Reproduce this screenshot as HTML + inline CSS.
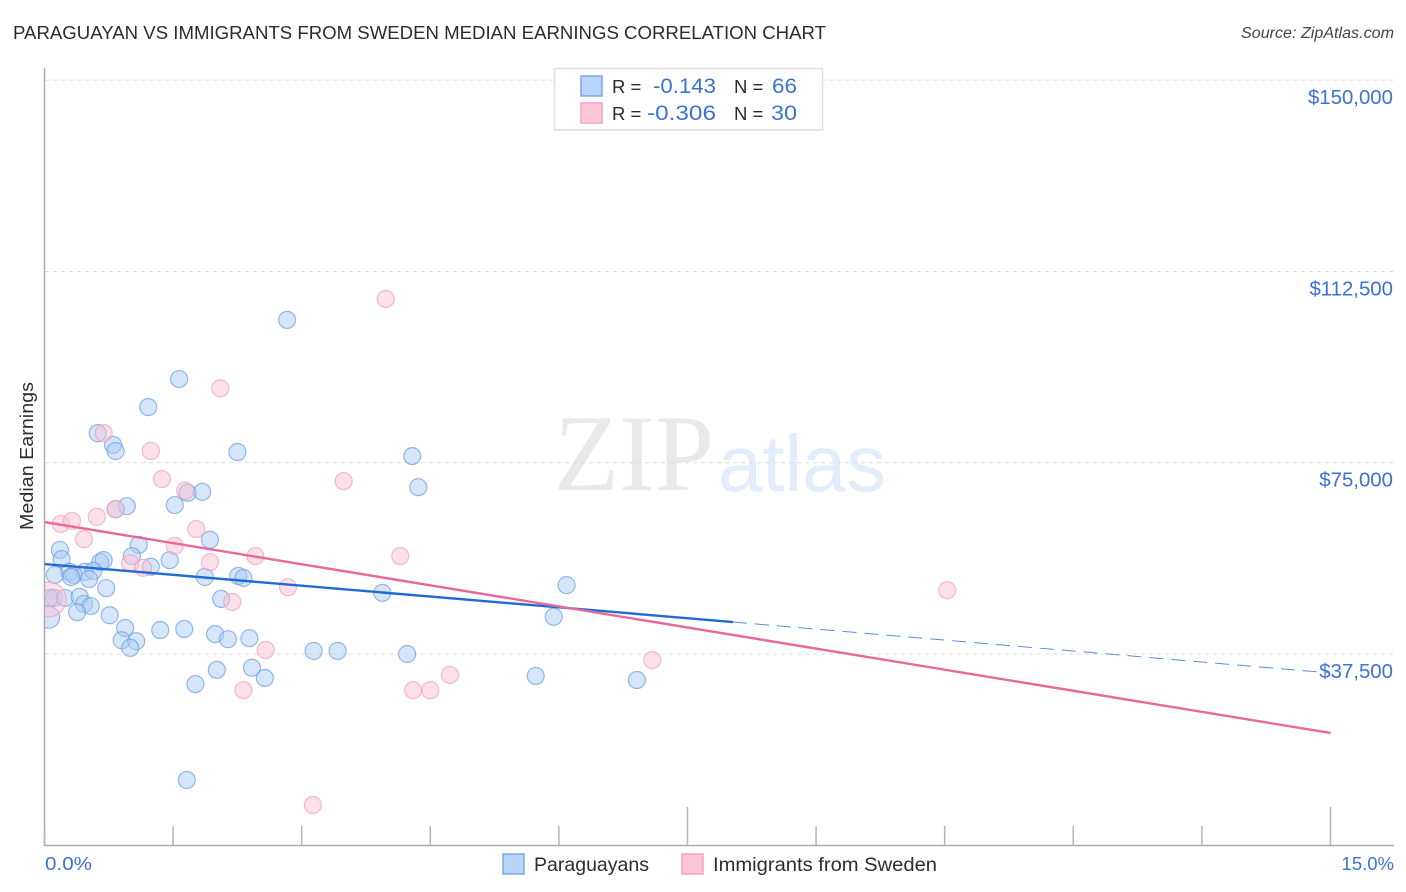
<!DOCTYPE html>
<html lang="en">
<head>
<meta charset="utf-8">
<title>Paraguayan vs Immigrants from Sweden Median Earnings Correlation Chart</title>
<style>
html,body{margin:0;padding:0;background:#fff;width:1406px;height:892px;overflow:hidden}
svg{display:block;font-family:"Liberation Sans",sans-serif}
</style>
</head>
<body>
<svg id="chart" xmlns="http://www.w3.org/2000/svg" width="1406" height="892" viewBox="0 0 1406 892">
  <defs><clipPath id="plot-clip"><rect x="45" y="60" width="1360" height="785"/></clipPath></defs>
  <text x="13" y="39" font-size="18.5" fill="#2c2c2c" textLength="813" lengthAdjust="spacingAndGlyphs">PARAGUAYAN VS IMMIGRANTS FROM SWEDEN MEDIAN EARNINGS CORRELATION CHART</text>
  <text x="1241" y="38" font-size="15.5" font-style="italic" fill="#444" textLength="153" lengthAdjust="spacingAndGlyphs">Source: ZipAtlas.com</text>

  <g>
    <text x="554" y="490" font-family="'Liberation Serif',serif" font-size="109" fill="#e9e9e9" textLength="160" lengthAdjust="spacingAndGlyphs">ZIP</text>
    <text x="718" y="491" font-size="80" fill="#e2ecfa" textLength="168" lengthAdjust="spacingAndGlyphs">atlas</text>
  </g>

  <g id="grid"></g>
  <g id="axes"></g>
  <g id="y-labels"></g>
  <g id="points" clip-path="url(#plot-clip)"></g>
  <g id="trends"></g>

  <text transform="translate(33,456) rotate(-90)" text-anchor="middle" font-size="18.5" fill="#2c2c2c" textLength="148" lengthAdjust="spacingAndGlyphs">Median Earnings</text>
  <text x="45" y="870" font-size="18.5" fill="#3b72d3" textLength="47" lengthAdjust="spacingAndGlyphs">0.0%</text>
  <text x="1394" y="870" font-size="18.5" fill="#3b72d3" text-anchor="end">15.0%</text>

  <g>
    <rect x="554.5" y="68.5" width="268" height="61.5" fill="#fff" stroke="#dfdfdf" stroke-width="1.5"/>
    <rect x="581" y="76" width="21" height="20" fill="#b9d4f8" stroke="#7aa8e6" stroke-width="1.5"/>
    <rect x="581" y="103" width="21" height="20" fill="#fcc6d8" stroke="#f3a3bd" stroke-width="1.5"/>
    <text x="612" y="93" font-size="18.5" fill="#2c2c2c">R =</text>
    <text x="653" y="93" font-size="21" fill="#3b72d3" textLength="63" lengthAdjust="spacingAndGlyphs">-0.143</text>
    <text x="734" y="93" font-size="18.5" fill="#2c2c2c">N =</text>
    <text x="772" y="93" font-size="21" fill="#3b72d3" textLength="25" lengthAdjust="spacingAndGlyphs">66</text>
    <text x="612" y="120" font-size="18.5" fill="#2c2c2c">R =</text>
    <text x="647" y="120" font-size="21" fill="#3b72d3" textLength="69" lengthAdjust="spacingAndGlyphs">-0.306</text>
    <text x="734" y="120" font-size="18.5" fill="#2c2c2c">N =</text>
    <text x="771" y="120" font-size="21" fill="#3b72d3" textLength="26" lengthAdjust="spacingAndGlyphs">30</text>
  </g>

  <g>
    <rect x="503" y="854" width="21" height="20" fill="#b9d4f8" stroke="#7aa8e6" stroke-width="1.5"/>
    <text x="534" y="871" font-size="19.5" fill="#2c2c2c" textLength="115" lengthAdjust="spacingAndGlyphs">Paraguayans</text>
    <rect x="682" y="854" width="21" height="20" fill="#fcc6d8" stroke="#f3a3bd" stroke-width="1.5"/>
    <text x="713" y="871" font-size="19.5" fill="#2c2c2c" textLength="224" lengthAdjust="spacingAndGlyphs">Immigrants from Sweden</text>
  </g>
</svg>
<script>
// Chart data: x = share of population (%), y = median earnings ($)
const yTickValues = [37500, 75000, 112500, 150000];
const yTickLabels = ['$37,500', '$75,000', '$112,500', '$150,000'];
const xTickValues = [0, 1.5, 3, 4.5, 6, 7.5, 9, 10.5, 12, 13.5, 15];
const paraguayansX = [2.83,1.57,1.21,0.62,0.80,0.83,2.25,4.29,4.36,1.67,1.84,1.52,0.96,0.83,1.93,1.10,1.02,0.18,0.20,0.65,0.69,1.46,1.24,0.29,0.47,0.57,0.34,0.31,0.12,0.52,0.72,1.87,2.26,2.32,3.94,6.09,2.06,0.11,0.06,0.24,0.41,0.46,0.54,0.38,0.76,5.94,0.05,0.94,0.90,1.07,1.00,1.35,1.63,1.99,2.14,2.39,3.14,3.42,4.23,2.01,2.42,2.57,1.76,5.73,6.91,1.66];
const paraguayansY = [103000,91400,85900,80800,78500,77300,77100,76300,70200,69100,69300,66700,66500,65900,59900,58900,56700,57900,56100,55500,55900,55900,54600,53600,53600,53800,53000,52600,53000,52200,50400,52600,52800,52400,49500,51000,48300,48500,48500,48500,48700,47300,46900,45700,45100,44800,44700,42600,40200,40000,38700,42200,42400,41400,40400,40600,38100,38100,37500,34400,34800,32800,31600,33200,32400,12800];
const paraguayansWeight = [1,1,1,1,1,1,1,1,1,1,1,1,1,1,1,1,1,1,1,1,1,1,1,1,1,1,1,1,1,1,1,1,1,1,1,1,1,1,1,1,1,1,1,1,1,1,1.65,1,1,1,1,1,1,1,1,1,1,1,1,1,1,1,1,1,1,1];
const swedenX = [3.98,2.05,0.69,1.24,1.37,1.64,3.49,0.83,0.61,0.19,0.32,0.46,1.77,1.52,2.46,4.15,1.00,1.15,1.93,2.84,10.53,2.19,0.05,2.58,7.09,4.73,4.30,4.50,2.32,3.13];
const swedenY = [107100,89600,80800,77300,71800,69500,71400,65900,64400,63000,63600,60000,62000,58700,56700,56700,55300,54400,55500,50600,50000,47700,48200,38300,36300,33400,30400,30400,30400,7900];
const swedenWeight = [1,1,1,1,1,1,1,1,1,1,1,1,1,1,1,1,1,1,1,1,1,1,4.2,1,1,1,1,1,1,1];
const paraguayansTrendX = [0, 8.03];
const paraguayansTrendY = [55140, 43770];
const paraguayansForecastX = [8.03, 15];
const paraguayansForecastY = [43770, 33780];
const swedenTrendX = [0, 15];
const swedenTrendY = [63370, 22020];

const NS = 'http://www.w3.org/2000/svg';
function xScale(v) { return 44.5 + v * 85.73; }
function yScale(v) { return 654 - (v - 37500) / 196.05; }

function make(tag, attrs, parent) {
  const el = document.createElementNS(NS, tag);
  for (const k in attrs) el.setAttribute(k, attrs[k]);
  parent.appendChild(el);
  return el;
}

const gridGroup = document.getElementById('grid');
const labelGroup = document.getElementById('y-labels');
yTickValues.forEach(function (v, i) {
  const line = make('line', {x1: 45, x2: 1394, y1: yScale(v), y2: yScale(v), stroke: '#dcdcdc', 'stroke-width': 1, 'stroke-dasharray': '4 4'}, gridGroup);
  
  
  const label = make('text', {x: 1393, y: yScale(v) + 24, 'text-anchor': 'end', 'font-size': 20.4, fill: '#3b72d3'}, labelGroup);
  label.textContent = yTickLabels[i];
  
  
});

const axesGroup = document.getElementById('axes');
const yAxisLine = make('line', {x1: 44.5, x2: 44.5, y1: 68, y2: 846, stroke: '#aaaaaa', 'stroke-width': 1.5}, axesGroup);


const xAxisLine = make('line', {x1: 44, x2: 1394, y1: 845.5, y2: 845.5, stroke: '#aaaaaa', 'stroke-width': 1.5}, axesGroup);


xTickValues.forEach(function (v, i) {
  const tall = i === 5 || i === 10;
  const tick = make('line', {x1: xScale(v), x2: xScale(v), y1: tall ? 807 : 826, y2: 845, stroke: '#b5b5b5', 'stroke-width': 1.5}, axesGroup);
  
  
});

const pointGroup = document.getElementById('points');
function drawSeries(xs, ys, weights, fill, stroke, name) {
  xs.forEach(function (x, i) {
    const c = make('circle', {cx: xScale(x), cy: yScale(ys[i]), r: 8.5 * Math.sqrt(weights[i]), fill: fill, 'fill-opacity': 0.48, stroke: stroke, 'stroke-opacity': 0.7, 'stroke-width': 1.2}, pointGroup);
    
    
  });
}
drawSeries(paraguayansX, paraguayansY, paraguayansWeight, '#a9caf5', '#6a9de0', 'point-paraguayans');
drawSeries(swedenX, swedenY, swedenWeight, '#fbbfd3', '#f0a0bb', 'point-sweden');

const trendGroup = document.getElementById('trends');
const blueForecast = make('line', {x1: xScale(paraguayansForecastX[0]), y1: yScale(paraguayansForecastY[0]), x2: xScale(paraguayansForecastX[1]), y2: yScale(paraguayansForecastY[1]), stroke: '#5b8ed6', 'stroke-width': 1, 'stroke-dasharray': '14 8'}, trendGroup);


const blueTrend = make('line', {x1: xScale(paraguayansTrendX[0]), y1: yScale(paraguayansTrendY[0]), x2: xScale(paraguayansTrendX[1]), y2: yScale(paraguayansTrendY[1]), stroke: '#1f6bd6', 'stroke-width': 2.4}, trendGroup);


const pinkTrend = make('line', {x1: xScale(swedenTrendX[0]), y1: yScale(swedenTrendY[0]), x2: xScale(swedenTrendX[1]), y2: yScale(swedenTrendY[1]), stroke: '#e9689a', 'stroke-width': 2.4}, trendGroup);


</script>
</body>
</html>
